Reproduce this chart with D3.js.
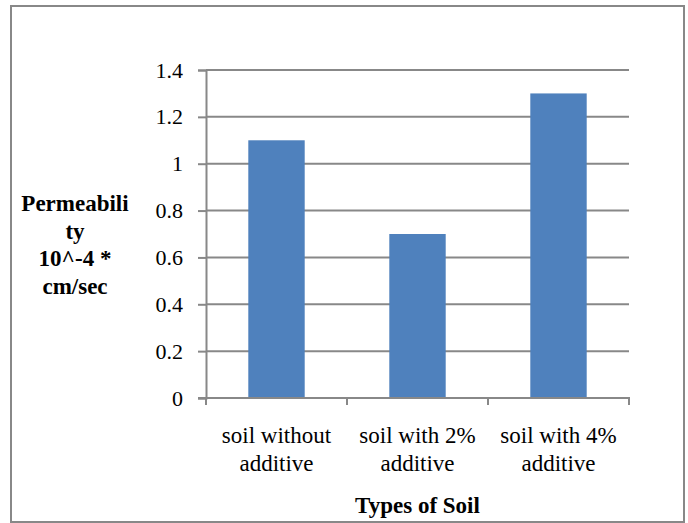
<!DOCTYPE html>
<html>
<head>
<meta charset="utf-8">
<script src="https://cdn.jsdelivr.net/npm/d3@7"></script>
<style>
  html, body { margin: 0; padding: 0; background: #fff; }
  svg { display: block; }
</style>
</head>
<body>
<svg id="chart" width="688" height="523"></svg>
<script>
// Permeability by soil type
const categories = ["soil without additive", "soil with 2% additive", "soil with 4% additive"];
const categoryLines = [["soil without", "additive"], ["soil with 2%", "additive"], ["soil with 4%", "additive"]];
const permeability = [1.1, 0.7, 1.3];
const yTicks = [0, 0.2, 0.4, 0.6, 0.8, 1, 1.2, 1.4];
const yTitleLines = ["Permeabili", "ty", "10^-4 *", "cm/sec"];
const xTitle = "Types of Soil";

const FONT = "'Liberation Serif', 'Times New Roman', serif";
const svg = d3.select("#chart");
const lineColor = "#888888";
const barColor = "#4F81BD";

// outer frame
svg.append("rect")
  .attr("x", 11).attr("y", 6)
  .attr("width", 673).attr("height", 516)
  .attr("fill", "none")
  .attr("stroke", lineColor)
  .attr("stroke-width", 2);

const plot = { left: 206, right: 629, top: 70, bottom: 398 };

const x = d3.scaleBand()
  .domain(categories)
  .range([plot.left, plot.right])
  .paddingInner(0.6)
  .paddingOuter(0.3);

const y = d3.scaleLinear()
  .domain([0, 1.4])
  .range([plot.bottom, plot.top]);

// horizontal gridlines
svg.append("g")
  .selectAll("line")
  .data(yTicks.filter(d => d > 0))
  .join("line")
  .attr("x1", plot.left).attr("x2", plot.right)
  .attr("y1", d => y(d)).attr("y2", d => y(d))
  .attr("stroke", lineColor)
  .attr("stroke-width", 2);

// bars
svg.append("g")
  .selectAll("rect")
  .data(categories)
  .join("rect")
  .attr("x", d => x(d))
  .attr("width", x.bandwidth())
  .attr("y", (d, i) => y(permeability[i]))
  .attr("height", (d, i) => y(0) - y(permeability[i]))
  .attr("fill", barColor);

// y axis
const yAxis = svg.append("g")
  .attr("transform", `translate(${plot.left},0)`)
  .attr("font-family", FONT)
  .call(d3.axisLeft(y).tickValues(yTicks).tickFormat(d => String(d)).tickSize(8).tickPadding(15));
yAxis.attr("font-family", FONT).attr("font-size", 22);
yAxis.select(".domain").attr("stroke", lineColor).attr("stroke-width", 2);
yAxis.selectAll(".tick line").attr("stroke", lineColor).attr("stroke-width", 2);
yAxis.selectAll(".tick text")
  .style("font-family", FONT)
  .style("font-size", "22px")
  .attr("fill", "#000");

// x axis baseline with tick marks at category boundaries
const step = x.step();
const boundaries = d3.range(categories.length + 1).map(i => plot.left + i * step);
svg.append("line")
  .attr("x1", plot.left - 8).attr("x2", plot.right + 1)
  .attr("y1", y(0)).attr("y2", y(0))
  .attr("stroke", lineColor).attr("stroke-width", 2);
svg.append("g")
  .selectAll("line")
  .data(boundaries)
  .join("line")
  .attr("x1", d => d).attr("x2", d => d)
  .attr("y1", y(0)).attr("y2", y(0) + 7)
  .attr("stroke", lineColor).attr("stroke-width", 2);

// category labels
const catLabels = svg.append("g")
  .selectAll("text")
  .data(categories)
  .join("text")
  .attr("text-anchor", "middle")
  .style("font-family", FONT)
  .style("font-size", "23px")
  .attr("fill", "#000");
catLabels.each(function (d, i) {
  const cx = x(d) + x.bandwidth() / 2;
  d3.select(this).selectAll("tspan")
    .data(categoryLines[i])
    .join("tspan")
    .attr("x", cx)
    .attr("y", (t, j) => 443 + j * 28)
    .text(t => t);
});

// y axis title
svg.append("text")
  .attr("text-anchor", "middle")
  .style("font-family", FONT)
  .style("font-size", "23px")
  .style("font-weight", "bold")
  .attr("fill", "#000")
  .selectAll("tspan")
  .data(yTitleLines)
  .join("tspan")
  .attr("x", 75)
  .attr("y", (t, j) => 211 + j * 27.7)
  .text(t => t);

// x axis title
svg.append("text")
  .attr("x", (plot.left + plot.right) / 2)
  .attr("y", 513)
  .attr("text-anchor", "middle")
  .style("font-family", FONT)
  .style("font-size", "23px")
  .style("font-weight", "bold")
  .attr("fill", "#000")
  .text(xTitle);
</script>
</body>
</html>
